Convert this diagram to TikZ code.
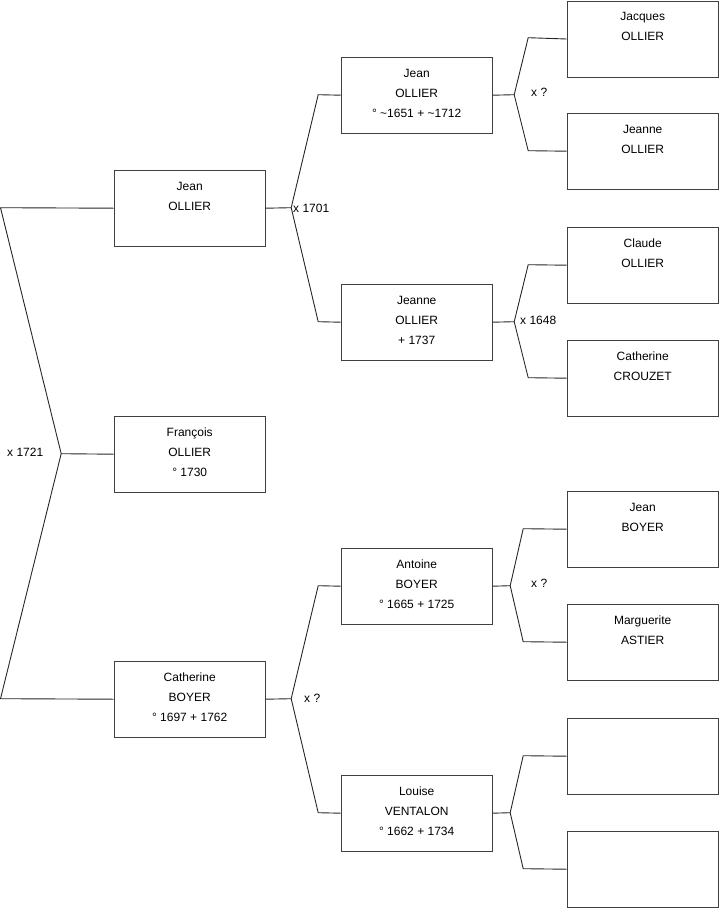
\documentclass[tikz,border=0pt]{standalone}
\usepackage{fontspec}
\setmainfont{Liberation Sans}
\begin{document}
\begin{tikzpicture}[x=1pt,y=-1pt,
  box/.style={draw=black!75, line width=1pt, minimum width=151pt, minimum height=76pt, inner sep=0pt, anchor=north west},
  txt/.style={anchor=north, inner sep=0pt, align=center, font=\fontsize{12}{20}\selectfont},
  lnk/.style={draw=black!85, line width=0.9pt},
  mar/.style={anchor=west, inner sep=0pt, font=\fontsize{12}{14}\selectfont}]
\useasboundingbox (0,0) rectangle (719,908);
\begin{scope}[shift={(-0.8,-0.8)}]
% column 1
\node[box] (b1) at (114.5,170.5) {};
\node[box] (b2) at (114.5,416.5) {};
\node[box] (b3) at (114.5,661.5) {};
% column 2
\node[box] (c1) at (341.5,57.5) {};
\node[box] (c2) at (341.5,284.5) {};
\node[box] (c3) at (341.5,548.5) {};
\node[box] (c4) at (341.5,775.5) {};
% column 3
\node[box] (d1) at (567.5,1.3) {};
\node[box] (d2) at (567.5,113.5) {};
\node[box] (d3) at (567.5,227.5) {};
\node[box] (d4) at (567.5,340.5) {};
\node[box] (d5) at (567.5,491.5) {};
\node[box] (d6) at (567.5,604.5) {};
\node[box] (d7) at (567.5,718.5) {};
\node[box] (d8) at (567.5,831.5) {};
% texts
\node[txt] (b1t) at ([yshift=-6.8pt]b1.north) {\strut Jean\\OLLIER};
\node[txt] (b2t) at ([yshift=-6.8pt]b2.north) {\strut François\\OLLIER\\° 1730};
\node[txt] (b3t) at ([yshift=-6.8pt]b3.north) {\strut Catherine\\BOYER\\° 1697 + 1762};
\node[txt] (c1t) at ([yshift=-6.8pt]c1.north) {\strut Jean\\OLLIER\\° \textasciitilde1651 + \textasciitilde1712};
\node[txt] (c2t) at ([yshift=-6.8pt]c2.north) {\strut Jeanne\\OLLIER\\+ 1737};
\node[txt] (c3t) at ([yshift=-6.8pt]c3.north) {\strut Antoine\\BOYER\\° 1665 + 1725};
\node[txt] (c4t) at ([yshift=-6.8pt]c4.north) {\strut Louise\\VENTALON\\° 1662 + 1734};
\node[txt] (d1t) at ([yshift=-6pt]d1.north) {\strut Jacques\\OLLIER};
\node[txt] (d2t) at ([yshift=-6.8pt]d2.north) {\strut Jeanne\\OLLIER};
\node[txt] (d3t) at ([yshift=-6.8pt]d3.north) {\strut Claude\\OLLIER};
\node[txt] (d4t) at ([yshift=-6.8pt]d4.north) {\strut Catherine\\CROUZET};
\node[txt] (d5t) at ([yshift=-6.8pt]d5.north) {\strut Jean\\BOYER};
\node[txt] (d6t) at ([yshift=-6.8pt]d6.north) {\strut Marguerite\\ASTIER};
% connector coordinates
\coordinate (L1) at (1.3,208.5);
\coordinate (Lv) at (62,454.5);
\coordinate (L2) at (1.3,699.5);
\coordinate (v1) at (292,208.5);
\coordinate (v1a) at (319,95.5);
\coordinate (v1b) at (319,322.5);
\coordinate (v3) at (292,699.5);
\coordinate (v3a) at (319,586.5);
\coordinate (v3b) at (319,813.5);
\coordinate (w1) at (515,95.5);
\coordinate (w1a) at (529,38.5);
\coordinate (w1b) at (529,151.5);
\coordinate (w2) at (515,322.5);
\coordinate (w2a) at (529,265.5);
\coordinate (w2b) at (529,378.5);
\coordinate (w3) at (511,586.5);
\coordinate (w3a) at (524,529.5);
\coordinate (w3b) at (524,642.5);
\coordinate (w4) at (511,813.5);
\coordinate (w4a) at (524,756.5);
\coordinate (w4b) at (524,869.5);
% connectors
\draw[lnk] (b1.west) -- (L1) -- (Lv) -- (L2) -- (b3.west);
\draw[lnk] (Lv) -- (b2.west);
\draw[lnk] (b1.east) -- (v1);
\draw[lnk] (c1.west) -- (v1a) -- (v1) -- (v1b) -- (c2.west);
\draw[lnk] (b3.east) -- (v3);
\draw[lnk] (c3.west) -- (v3a) -- (v3) -- (v3b) -- (c4.west);
\draw[lnk] (c1.east) -- (w1);
\draw[lnk] (d1.west) -- (w1a) -- (w1) -- (w1b) -- (d2.west);
\draw[lnk] (c2.east) -- (w2);
\draw[lnk] (d3.west) -- (w2a) -- (w2) -- (w2b) -- (d4.west);
\draw[lnk] (c3.east) -- (w3);
\draw[lnk] (d5.west) -- (w3a) -- (w3) -- (w3b) -- (d6.west);
\draw[lnk] (c4.east) -- (w4);
\draw[lnk] (d7.west) -- (w4a) -- (w4) -- (w4b) -- (d8.west);
% marriage labels
\node[mar] (m1) at (7.8,452.8) {x 1721};
\node[mar] (m2) at (293.8,208.8) {x 1701};
\node[mar] (m3) at (304.8,698.8) {x ?};
\node[mar] (m4) at (531.8,92.8) {x ?};
\node[mar] (m5) at (520.8,320.8) {x 1648};
\node[mar] (m6) at (531.8,583.8) {x ?};
\end{scope}
\end{tikzpicture}
\end{document}
